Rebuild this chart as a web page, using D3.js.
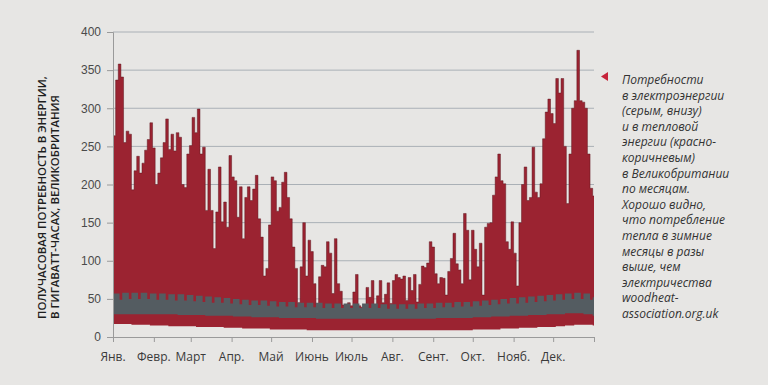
<!DOCTYPE html>
<html>
<head>
<meta charset="utf-8">
<script src="https://cdn.jsdelivr.net/npm/d3@7"></script>
<style>
  body { margin: 0; background: #e7e6e4; }
  svg { display: block; font-family: "Open Sans", sans-serif; }
</style>
</head>
<body>
<div id="chart"></div>
<script>
// heat demand peak, one value per 2 days (GWh per half hour)
const heatPeak = [
  264, 337, 358, 341, 255, 270, 266, 193, 218, 237,
  215, 228, 245, 259, 281, 248, 200, 215, 235, 255,
  286, 246, 266, 244, 268, 262, 200, 196, 240, 251,
  288, 268, 299, 240, 249, 166, 220, 166, 116, 164,
  223, 151, 177, 144, 238, 210, 205, 157, 197, 129,
  183, 197, 179, 194, 212, 155, 131, 80, 90, 147,
  210, 205, 165, 170, 203, 216, 183, 155, 118, 90,
  45, 92, 150, 80, 127, 112, 70, 42, 79, 94,
  92, 125, 110, 57, 129, 70, 60, 42, 40, 45,
  41, 59, 82, 41, 39, 40, 65, 52, 74, 37,
  54, 74, 45, 56, 71, 44, 74, 82, 78, 76,
  80, 48, 78, 61, 82, 46, 69, 93, 91, 97,
  125, 118, 83, 70, 78, 77, 55, 86, 103, 136,
  96, 88, 70, 162, 140, 75, 140, 115, 92, 123,
  55, 144, 149, 150, 186, 210, 240, 205, 201, 125,
  115, 151, 110, 67, 150, 200, 223, 179, 183, 249,
  190, 183, 201, 260, 295, 312, 293, 280, 339, 320,
  339, 250, 175, 240, 300, 310, 376, 310, 308, 300,
  240, 195, 185
]

// weekly values (53 weeks)
const heatLowWk = [17,17,16,16,15,15,14,14,14,13,13,13,12,12,11,11,11,10,10,10,10,9,9,9,9,9,9,9,9,9,9,9,9,9,9,9,9,9,9,10,10,10,11,11,12,12,13,13,14,15,16,16,15]
const elecPeakWk = [57,58,58,58,57,57,56,56,55,54,53,52,51,50,49,48,48,47,46,46,45,45,45,44,44,44,44,44,44,43,43,43,43,44,44,45,45,46,46,47,48,49,50,51,52,53,54,55,56,57,58,57,52]
const elecWeekendWk = [49,50,50,50,49,49,48,48,47,46,45,45,44,43,42,42,41,40,40,39,39,39,38,38,38,38,38,38,38,37,37,37,37,38,38,39,39,40,40,41,42,43,44,44,45,46,47,48,49,50,50,49,44]
const elecLowWk = [30,30,30,30,30,30,30,29,29,29,28,28,28,27,27,26,26,26,25,25,25,25,24,24,24,24,24,24,24,24,24,24,24,24,24,25,25,25,25,26,26,27,27,28,28,29,29,30,30,31,31,30,28]

const months = ["Янв.", "Февр.", "Март", "Апр.", "Май", "Июнь", "Июль", "Авг.", "Сент.", "Окт.", "Нояб.", "Дек."]
const monthStart = [0, 31, 59, 90, 120, 151, 181, 212, 243, 273, 304, 334, 365]
const yTicks = [0, 50, 100, 150, 200, 250, 300, 350, 400]

const yTitle = ["ПОЛУЧАСОВАЯ ПОТРЕБНОСТЬ В ЭНЕРГИИ,", "В ГИГАВАТТ-ЧАСАХ, ВЕЛИКОБРИТАНИЯ"]
const note = [
  "Потребности", "в электроэнергии", "(серым, внизу)", "и в тепловой",
  "энергии (красно-", "коричневым)", "в Великобритании", "по месяцам.",
  "Хорошо видно,", "что потребление", "тепла в зимние", "месяцы в разы",
  "выше, чем", "электричества", "woodheat-", "association.org.uk"
]

const width = 768
const height = 385
const margin = { top: 32, right: 174, bottom: 48, left: 113 }

// daily rows built from the arrays above
const days = d3.range(366).map(d => {
  const w = Math.floor(d / 7)
  return {
    day: d,
    heatTop: heatPeak[Math.floor(d / 2)],
    heatLow: heatLowWk[w],
    elecTop: (d % 7) >= 5 ? elecWeekendWk[w] : elecPeakWk[w],
    elecLow: elecLowWk[w]
  }
})

const x = d3.scaleLinear()
  .domain([0, 365])
  .range([margin.left, width - margin.right])

const y = d3.scaleLinear()
  .domain([0, 400])
  .range([height - margin.bottom, margin.top])

const svg = d3.select("#chart")
  .append("svg")
  .attr("width", width)
  .attr("height", height)

svg.append("rect")
  .attr("width", width)
  .attr("height", height)
  .attr("fill", "#e7e6e4")

// gridlines
svg.append("g")
  .selectAll("line")
  .data(yTicks.slice(1))
  .join("line")
    .attr("x1", x(0))
    .attr("x2", x(365))
    .attr("y1", d => y(d))
    .attr("y2", d => y(d))
    .attr("stroke", "#aab0b6")
    .attr("stroke-width", 1)

// heat band
const heatArea = d3.area()
  .x(d => x(d.day))
  .y0(d => y(d.heatLow))
  .y1(d => y(d.heatTop))
  .curve(d3.curveStepAfter)

svg.append("path")
  .datum(days)
  .attr("d", heatArea)
  .attr("fill", "#9b2331")

svg.append("path")
  .datum(days)
  .attr("d", d3.line().x(d => x(d.day)).y(d => y(d.heatTop)).curve(d3.curveStepAfter))
  .attr("fill", "none")
  .attr("stroke", "#5c141c")
  .attr("stroke-width", 0.8)
  .attr("stroke-opacity", 0.6)

// electricity band
const elecArea = d3.area()
  .x(d => x(d.day))
  .y0(d => y(d.elecLow))
  .y1(d => y(d.elecTop))
  .curve(d3.curveStepAfter)

svg.append("path")
  .datum(days)
  .attr("d", elecArea)
  .attr("fill", "#545c61")

// y axis
const yAxis = svg.append("g")
  .attr("transform", `translate(${margin.left},0)`)
  .call(d3.axisLeft(y).tickValues(yTicks).tickSize(6).tickPadding(6))
yAxis.select(".domain").attr("stroke", "#9a9a9a")
yAxis.selectAll(".tick line").attr("stroke", "#9a9a9a")
yAxis.selectAll("text")
  .attr("fill", "#4a4a4a")
  .style("font-size", "12px")

// x axis
const xAxis = svg.append("g")
  .attr("transform", `translate(0,${y(0)})`)
  .call(d3.axisBottom(x).tickValues(monthStart).tickSize(5).tickFormat(""))
xAxis.select(".domain").attr("stroke", "#9a9a9a")
xAxis.selectAll(".tick line").attr("stroke", "#9a9a9a")

svg.append("g")
  .selectAll("text")
  .data(months)
  .join("text")
    .attr("x", (d, i) => x(monthStart[i]))
    .attr("y", 361)
    .attr("text-anchor", "middle")
    .attr("fill", "#3a3a3a")
    .style("font-size", "12px")
    .text(d => d)

// y title
svg.append("g")
  .selectAll("text")
  .data(yTitle)
  .join("text")
    .attr("transform", (d, i) => `translate(${46 + i * 13},319) rotate(-90)`)
    .attr("fill", "#1e1e1e")
    .style("font-size", "11.4px")
    .style("font-weight", 600)
    .text(d => d)

// annotation
svg.append("path")
  .attr("d", "M601,76.5L608,72L608,81Z")
  .attr("fill", "#c6243a")

svg.append("g")
  .selectAll("text")
  .data(note)
  .join("text")
    .attr("x", 622)
    .attr("y", (d, i) => 84 + i * 15.6)
    .attr("fill", "#333")
    .style("font-size", "12px")
    .style("font-style", "italic")
    .text(d => d)
</script>
</body>
</html>
